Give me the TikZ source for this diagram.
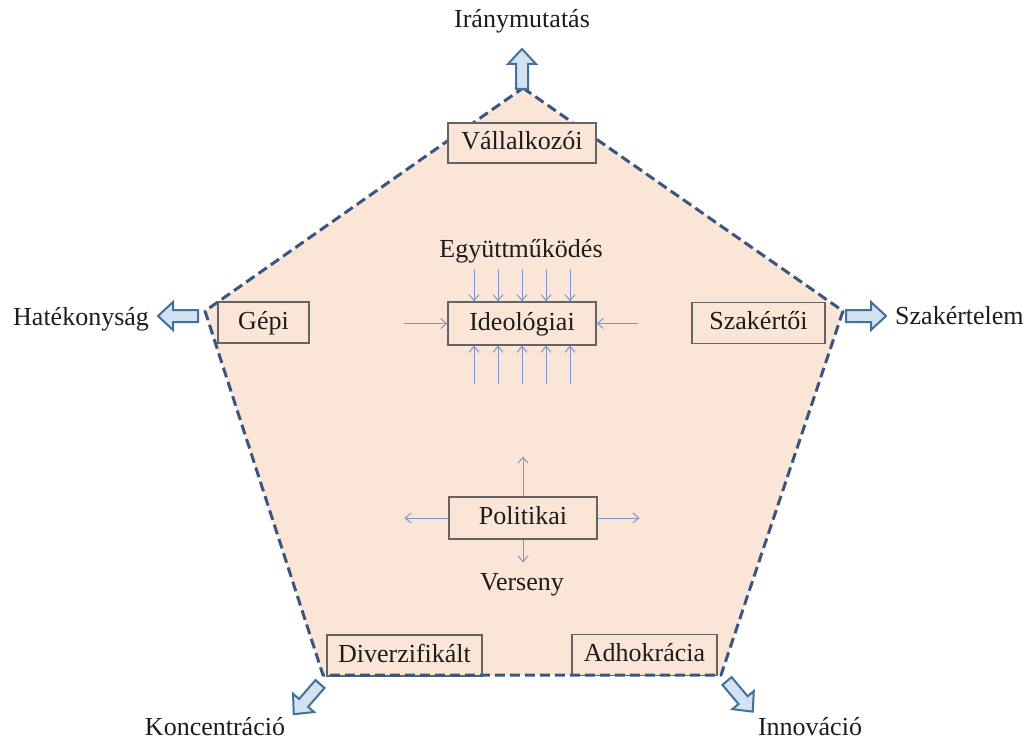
\documentclass[tikz,border=0pt]{standalone}
\usepackage{fontspec}
\setmainfont{Liberation Serif}
\usetikzlibrary{arrows.meta,calc}

\definecolor{peach}{RGB}{251,229,214}
\definecolor{edgeblue}{RGB}{58,86,128}
\definecolor{boxgray}{RGB}{100,100,100}
\definecolor{thinblue}{RGB}{125,152,198}
\definecolor{fatline}{RGB}{65,113,156}
\definecolor{fatfill}{RGB}{212,225,242}
\definecolor{ink}{RGB}{28,28,28}

\tikzset{
  lbl/.style={font=\fontsize{26}{30}\selectfont, text=ink, inner sep=0pt},
  typebox/.style={lbl, draw=boxgray, line width=1.2pt, fill=peach,
    minimum width=#1, minimum height=41, text height=18, text depth=5},
  outline/.style={draw=edgeblue, line width=3pt, dash pattern=on 10pt off 5pt, line join=round},
  flow/.style={draw=thinblue, line width=1pt, -{Straight Barb[length=6pt,width=10pt]}},
  fatarrow/.pic={
    \draw[fatline, fill=fatfill, line width=2pt, line join=miter]
      (0,-6) -- (25,-6) -- (25,-14) -- (40,0) -- (25,14) -- (25,6) -- (0,6) -- cycle;
  }
}

\begin{document}
\begin{tikzpicture}[x=1pt, y=-1pt]
\useasboundingbox (0,0) rectangle (1031,741);

% pentagon corners
\coordinate (ptop) at (523,88);
\coordinate (pright) at (843,311);
\coordinate (pbr) at (721,675);
\coordinate (pbl) at (323,675);
\coordinate (pleft) at (205,311);

\fill[peach] (ptop) -- (pright) -- (pbr) -- (pbl) -- (pleft) -- cycle;

% boxes lying on the bottom edge
\node[typebox=155] (div) at (404.5,655.5) {Diverzifikált};
\node[typebox=145] (adho) at (644.5,655) {Adhokrácia};

\draw[outline] (ptop) -- (pright) -- (pbr) -- (pbl) -- (pleft) -- cycle;

% configuration boxes
\node[typebox=148, minimum height=40] (valla) at (522,143) {Vállalkozói};
\node[typebox=91] (gepi) at (263.5,322.5) {Gépi};
\node[typebox=133] (szak) at (758.5,323) {Szakértői};
\node[typebox=148, minimum height=43] (ideo) at (522,323.5) {Ideológiai};
\node[typebox=148, minimum height=42] (poli) at (523,518) {Politikai};

% outer pulls
\node[lbl, anchor=base] (irany) at (522,28) {Iránymutatás};
\node[lbl, anchor=base west] (hatek) at (13,325) {Hatékonyság};
\node[lbl, anchor=base west] (szakt) at (895,324) {Szakértelem};
\node[lbl, anchor=base] (konc) at (215,735) {Koncentráció};
\node[lbl, anchor=base] (innov) at (810,735) {Innováció};

\pic[rotate=90] at (522,89) {fatarrow};
\pic[rotate=180] at (198,316) {fatarrow};
\pic at (846,316) {fatarrow};
\pic[rotate=229] at (320,684) {fatarrow};
\pic[rotate=-50] at (727,681) {fatarrow};

% inner forces
\node[lbl, anchor=base] (egyutt) at (521,257) {Együttműködés};
\node[lbl, anchor=base] (verseny) at (522,590) {Verseny};

\foreach \dx in {-48,-24,0,24,48} {
  \draw[flow] ($(ideo.north)+(\dx,-32)$) -- ($(ideo.north)+(\dx,0)$);
  \draw[flow] ($(ideo.south)+(\dx,38)$) -- ($(ideo.south)+(\dx,0)$);
}
\draw[flow] ($(ideo.west)+(-43,0)$) -- (ideo.west);
\draw[flow] ($(ideo.east)+(41,0)$) -- (ideo.east);

\draw[flow] (poli.north) -- +(0,-40);
\draw[flow] (poli.south) -- +(0,23);
\draw[flow] (poli.west) -- +(-44,0);
\draw[flow] (poli.east) -- +(42,0);
\end{tikzpicture}
\end{document}
